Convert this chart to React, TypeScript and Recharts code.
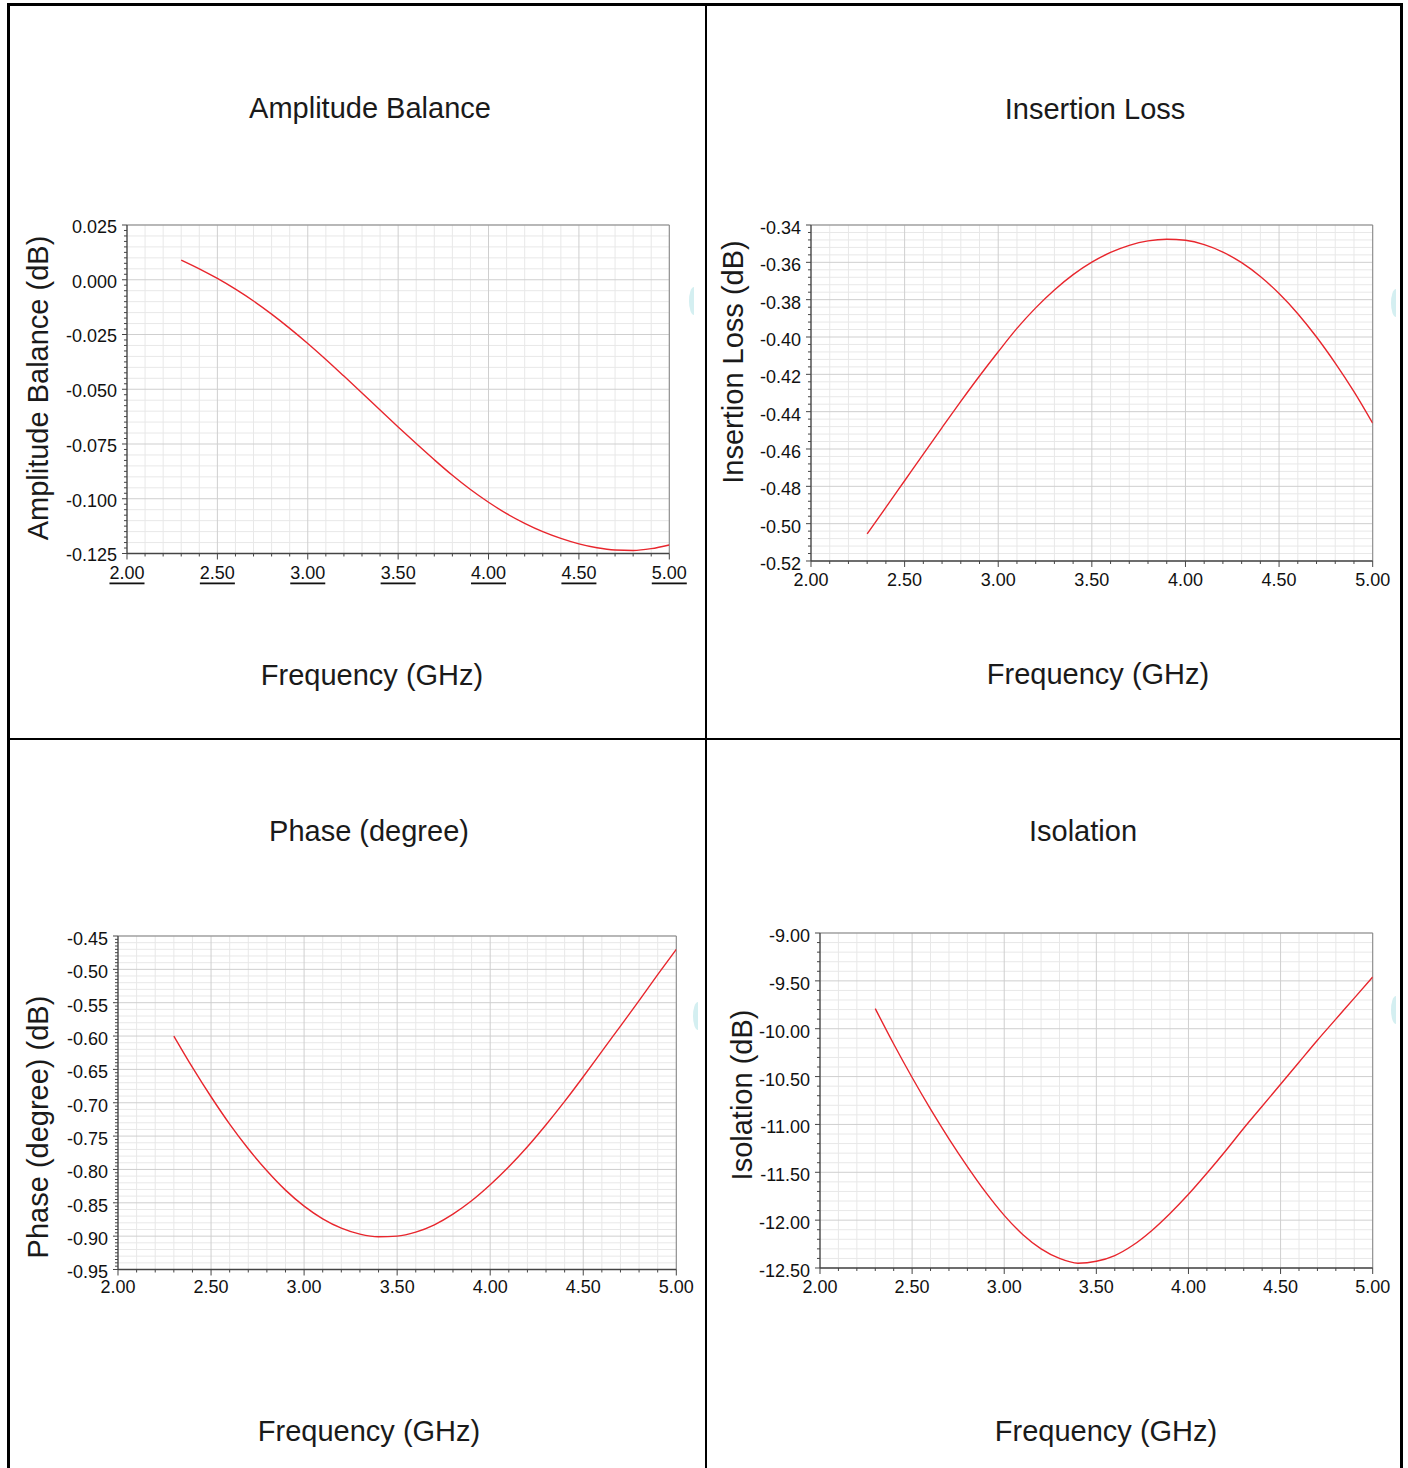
import React from 'react';
import { LineChart, Line, XAxis, YAxis, CartesianGrid, ReferenceLine } from 'recharts';

// frequency points (GHz)
const freq = [2.3, 2.4, 2.5, 2.6, 2.7, 2.8, 2.9, 3.0, 3.1, 3.2, 3.3, 3.4, 3.5, 3.6, 3.7, 3.8, 3.9, 4.0, 4.1, 4.2, 4.3, 4.4, 4.5, 4.6, 4.7, 4.8, 4.9, 5.0];

const ampBalance = [0.009, 0.005, 0.0006, -0.0043, -0.0097, -0.0157, -0.0222, -0.0291, -0.0364, -0.044, -0.0517, -0.0595, -0.0672, -0.0748, -0.0822, -0.0893, -0.0958, -0.1016, -0.1068, -0.1112, -0.115, -0.1181, -0.1206, -0.1224, -0.1234, -0.1236, -0.1228, -0.1211];
const insertionLoss = [-0.5055, -0.4913, -0.477, -0.4627, -0.4485, -0.4345, -0.4209, -0.4079, -0.3954, -0.3844, -0.3748, -0.3666, -0.3599, -0.3547, -0.3509, -0.3485, -0.3476, -0.3482, -0.3505, -0.3545, -0.3602, -0.3676, -0.3767, -0.3875, -0.4, -0.414, -0.4293, -0.4462];
const phase = [-0.6, -0.647, -0.691, -0.732, -0.769, -0.802, -0.831, -0.855, -0.874, -0.888, -0.897, -0.901, -0.9, -0.894, -0.883, -0.867, -0.847, -0.823, -0.796, -0.766, -0.733, -0.698, -0.661, -0.623, -0.585, -0.547, -0.508, -0.47];
const isolation = [-9.79, -10.16, -10.51, -10.84, -11.15, -11.44, -11.71, -11.95, -12.15, -12.3, -12.4, -12.45, -12.43, -12.37, -12.26, -12.11, -11.93, -11.73, -11.51, -11.28, -11.04, -10.81, -10.58, -10.35, -10.12, -9.9, -9.68, -9.46];

// tick labels
const freqTicks = [2.0, 2.5, 3.0, 3.5, 4.0, 4.5, 5.0];
const ampTicks = [0.025, 0.0, -0.025, -0.05, -0.075, -0.1, -0.125];
const ilTicks = [-0.34, -0.36, -0.38, -0.4, -0.42, -0.44, -0.46, -0.48, -0.5, -0.52];
const phaseTicks = [-0.45, -0.5, -0.55, -0.6, -0.65, -0.7, -0.75, -0.8, -0.85, -0.9, -0.95];
const isoTicks = [-9.0, -9.5, -10.0, -10.5, -11.0, -11.5, -12.0, -12.5];

const font = '"Liberation Sans", Arial, Helvetica, sans-serif';
const red = '#e8262d';

// split each major step into n pieces (axis subdivisions only)
function subdivide(majors: number[], n: number) {
  const out: number[] = [];
  for (let i = 0; i < majors.length - 1; i++) {
    const step = (majors[i + 1] - majors[i]) / n;
    for (let j = 0; j < n; j++) out.push(majors[i] + step * j);
  }
  out.push(majors[majors.length - 1]);
  return out;
}

function minorsOnly(all: number[], majors: number[]) {
  return all.filter((v) => !majors.some((m) => Math.abs(m - v) < 1e-9));
}

function findMajor(v: number, majors: number[]) {
  return majors.find((m) => Math.abs(m - v) < 1e-9);
}

type Rect = { x: number; y: number; w: number; h: number };

type PanelProps = {
  plot: Rect;
  values: number[];
  yMajors: number[];
  yTickDiv: number;
  yGridDiv: number;
  yDigits: number;
  underline?: boolean;
  xLabelDy: number;
  yLabelDy: number;
};

function Panel({ plot, values, yMajors, yTickDiv, yGridDiv, yDigits, underline, xLabelDy, yLabelDy }: PanelProps) {
  const data = freq.map((f, i) => ({ f, v: values[i] }));
  const yMin = yMajors[yMajors.length - 1];
  const yMax = yMajors[0];
  const xAll = subdivide(freqTicks, 5);
  const yTicks = subdivide(yMajors, yTickDiv);
  const yGrid = subdivide(yMajors, yGridDiv);

  const left = plot.x - 110;
  const top = plot.y - 20;

  const xTick = (p: any) => {
    const m = findMajor(p.payload.value, freqTicks);
    return (
      <g>
        <line x1={p.x} y1={p.y} x2={p.x} y2={p.y + (m !== undefined ? 6 : 3)} stroke="#444" strokeWidth={1} />
        {m !== undefined && (
          <text
            x={p.x}
            y={p.y + xLabelDy}
            textAnchor="middle"
            dominantBaseline="central"
            fontSize={18}
            fontFamily={font}
            fill="#111"
            style={underline ? { textDecoration: 'underline' } : undefined}
          >
            {m.toFixed(2)}
          </text>
        )}
      </g>
    );
  };

  const yTick = (p: any) => {
    const m = findMajor(p.payload.value, yMajors);
    return (
      <g>
        <line x1={p.x} y1={p.y} x2={p.x - (m !== undefined ? 5 : 3)} y2={p.y} stroke="#444" strokeWidth={1} />
        {m !== undefined && (
          <text
            x={p.x - 10}
            y={p.y + yLabelDy}
            textAnchor="end"
            dominantBaseline="central"
            fontSize={18}
            fontFamily={font}
            fill="#111"
          >
            {m.toFixed(yDigits)}
          </text>
        )}
      </g>
    );
  };

  return (
    <div style={{ position: 'absolute', left, top }}>
      <LineChart
        width={plot.w + 140}
        height={plot.h + 70}
        data={data}
        margin={{ top: 20, right: 30, bottom: 10, left: 50 }}
      >
        <CartesianGrid
          stroke="#e8e8e8"
          fill="none"
          horizontalValues={minorsOnly(yGrid, yMajors)}
          verticalValues={minorsOnly(xAll, freqTicks)}
        />
        <CartesianGrid stroke="#cfcfcf" fill="none" horizontalValues={yMajors} verticalValues={freqTicks} />
        <ReferenceLine y={yMax} stroke="#888" />
        <ReferenceLine x={5} stroke="#888" />
        <XAxis
          dataKey="f"
          type="number"
          domain={[2, 5]}
          allowDataOverflow
          ticks={xAll}
          interval={0}
          height={40}
          tickSize={0}
          tickMargin={0}
          tickLine={false}
          axisLine={{ stroke: '#444', strokeWidth: 1.3 }}
          tick={xTick}
        />
        <YAxis
          type="number"
          domain={[yMin, yMax]}
          allowDataOverflow
          ticks={yTicks}
          interval={0}
          width={60}
          tickSize={0}
          tickMargin={0}
          tickLine={false}
          axisLine={{ stroke: '#444', strokeWidth: 1.3 }}
          tick={yTick}
        />
        <Line
          type="monotone"
          dataKey="v"
          stroke={red}
          strokeWidth={1.4}
          dot={false}
          isAnimationActive={false}
        />
      </LineChart>
    </div>
  );
}

function Label({ x, y, text, rotate }: { x: number; y: number; text: string; rotate?: boolean }) {
  return (
    <div
      style={{
        position: 'absolute',
        left: x,
        top: y,
        transform: `translate(-50%, -50%)${rotate ? ' rotate(-90deg)' : ''}`,
        whiteSpace: 'nowrap',
        fontFamily: font,
        fontSize: 29,
        color: '#1a1a1a',
        lineHeight: 1,
      }}
    >
      {text}
    </div>
  );
}

function Rule({ x, y, w, h }: { x: number; y: number; w: number; h: number }) {
  return <div style={{ position: 'absolute', left: x, top: y, width: w, height: h, background: '#000' }} />;
}

function Nub({ x, y }: { x: number; y: number }) {
  return (
    <div style={{ position: 'absolute', left: x, top: y, width: 5, height: 28, overflow: 'hidden' }}>
      <div style={{ width: 10, height: 28, borderRadius: '50%', background: '#d4eff1' }} />
    </div>
  );
}

export default function App() {
  return (
    <div style={{ position: 'absolute', left: 0, top: 0, width: 1408, height: 1468, background: '#fff', overflow: 'hidden' }}>
      {/* table borders */}
      <Rule x={7} y={3} w={1396} h={3} />
      <Rule x={7} y={3} w={3} h={1465} />
      <Rule x={1400} y={3} w={3} h={1465} />
      <Rule x={705} y={3} w={2} h={1465} />
      <Rule x={7} y={738} w={1396} h={2} />

      <Nub x={689} y={287} />
      <Nub x={1391} y={289} />
      <Nub x={693} y={1002} />
      <Nub x={1391} y={996} />

      {/* Amplitude Balance */}
      <Label x={370} y={108} text="Amplitude Balance" />
      <Label x={38} y={388} text="Amplitude Balance (dB)" rotate />
      <Label x={372} y={675} text="Frequency (GHz)" />
      <Panel
        plot={{ x: 126.7, y: 225, w: 542.3, h: 328.5 }}
        values={ampBalance}
        yMajors={ampTicks}
        yTickDiv={10}
        yGridDiv={5}
        yDigits={3}
        underline
        xLabelDy={20}
        yLabelDy={2}
      />

      {/* Insertion Loss */}
      <Label x={1095} y={109} text="Insertion Loss" />
      <Label x={733} y={362} text="Insertion Loss (dB)" rotate />
      <Label x={1098} y={674} text="Frequency (GHz)" />
      <Panel
        plot={{ x: 811, y: 225, w: 561.7, h: 336 }}
        values={insertionLoss}
        yMajors={ilTicks}
        yTickDiv={5}
        yGridDiv={5}
        yDigits={2}
        xLabelDy={19}
        yLabelDy={3}
      />

      {/* Phase */}
      <Label x={369} y={831} text="Phase (degree)" />
      <Label x={38} y={1127} text="Phase (degree) (dB)" rotate />
      <Label x={369} y={1431} text="Frequency (GHz)" />
      <Panel
        plot={{ x: 117.7, y: 936, w: 558.3, h: 333.5 }}
        values={phase}
        yMajors={phaseTicks}
        yTickDiv={10}
        yGridDiv={5}
        yDigits={2}
        xLabelDy={18}
        yLabelDy={3}
      />

      {/* Isolation */}
      <Label x={1083} y={831} text="Isolation" />
      <Label x={742} y={1095} text="Isolation (dB)" rotate />
      <Label x={1106} y={1431} text="Frequency (GHz)" />
      <Panel
        plot={{ x: 820, y: 933.3, w: 552.7, h: 335 }}
        values={isolation}
        yMajors={isoTicks}
        yTickDiv={5}
        yGridDiv={5}
        yDigits={2}
        xLabelDy={19}
        yLabelDy={3}
      />
    </div>
  );
}
